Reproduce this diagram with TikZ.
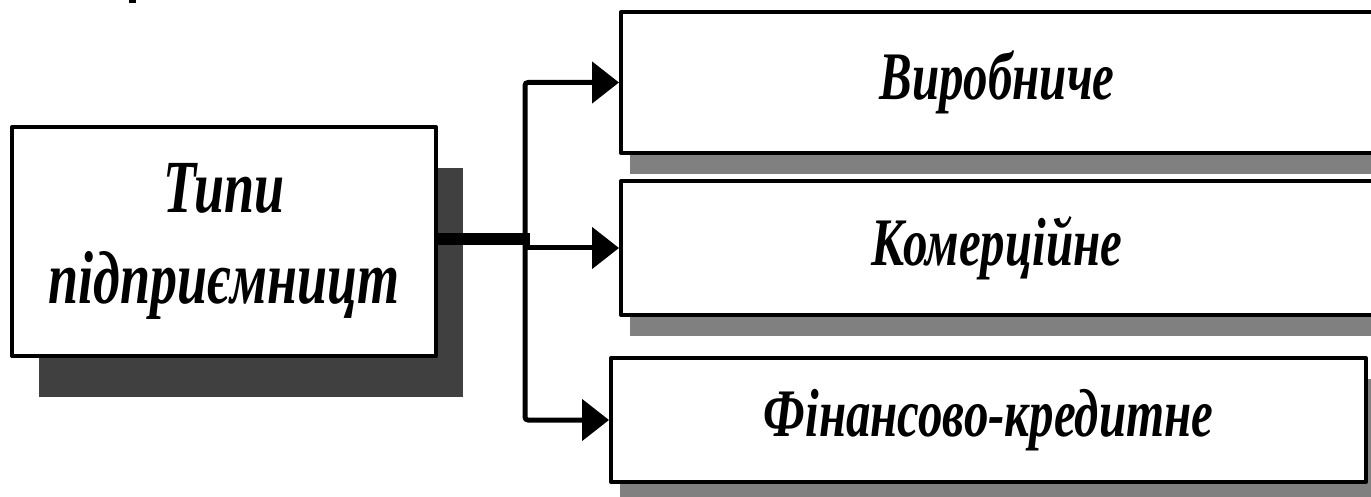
\documentclass[tikz,border=0pt]{standalone}
\usepackage{fontspec}
\newfontfamily\diagfont[FakeStretch=0.72]{Liberation Serif}
\usetikzlibrary{arrows.meta,shadows}
\tikzset{
  typebox/.style={draw, line width=4pt, line join=round, fill=white, inner sep=0pt,
    font=\diagfont\bfseries\itshape\fontsize{68}{80}\selectfont,
    drop shadow={shadow xshift=9pt, shadow yshift=-21pt, fill=black!50, opacity=1}},
  rootbox/.style={draw, line width=4pt, line join=round, fill=white, inner sep=0pt, align=center,
    font=\diagfont\bfseries\itshape\fontsize{75}{91}\selectfont,
    drop shadow={shadow xshift=27pt, shadow yshift=-41pt, fill=black!75, opacity=1}},
  conn/.style={line width=5pt, rounded corners=3pt},
  bigtip/.tip={Triangle[length=27pt, width=41pt]}
}
\begin{document}
\begin{tikzpicture}[x=1pt, y=-1pt]
\useasboundingbox (0,0) rectangle (1371,497);
\fill (129,0) rectangle (136,3);
\node[rootbox, minimum width=424pt, minimum height=229pt] (tipy) at (224,241.5) {Типи\\підприємницт};
\node[typebox, minimum width=752pt, minimum height=141pt] (vyr) at (997,82.5) {Виробниче};
\node[typebox, minimum width=752pt, minimum height=134pt] (kom) at (997,248) {Комерційне};
\node[typebox, minimum width=755pt, minimum height=124pt] (fin) at (988.5,420) {Фінансово-кредитне};
\coordinate (trunk) at (525,239);
\draw[conn, bigtip-bigtip] (vyr.west) -- (trunk |- vyr.west) -- (trunk |- fin.west) -- (fin.west);
\draw[conn, -bigtip] (trunk |- kom.west) -- (kom.west);
\draw[line width=12pt] (tipy.east |- trunk) -- ([xshift=5pt]trunk);
\end{tikzpicture}
\end{document}
